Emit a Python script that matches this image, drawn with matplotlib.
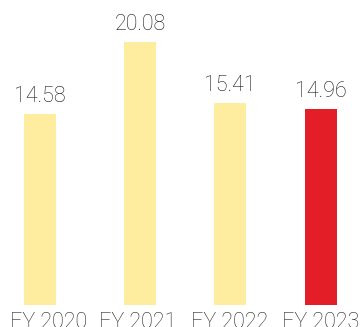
import matplotlib
matplotlib.use("Agg")
import matplotlib.pyplot as plt

years = ["FY 2020", "FY 2021", "FY 2022", "FY 2023"]
values = [14.58, 20.08, 15.41, 14.96]
colors = ["#FEEC9F", "#FEEC9F", "#FEEC9F", "#E31E26"]

# horizontal layout in pixels
bar_x = [40, 140, 230, 321]
label_x = [49, 138, 230, 321]

plt.rcParams["font.family"] = ["Roboto", "DejaVu Sans"]

fig = plt.figure(figsize=(3.6, 3.27), dpi=100)
ax = fig.add_axes([0, 0, 1, 1])

px_per_unit = 13.07
base_px = 22.5
ax.set_xlim(0, 360)
ax.set_ylim(-base_px / px_per_unit, (327 - base_px) / px_per_unit)
ax.axis("off")

bars = ax.bar(bar_x, values, width=32, color=colors)
for rect, v in zip(bars, values):
    ax.annotate(f"{v:.2f}", (rect.get_x() + rect.get_width() / 2, v),
                xytext=(0, 7), textcoords="offset pixels",
                ha="center", va="bottom", fontsize=15.5, fontweight="light",
                color="#1a1a1a")

# category names sit just under the baseline, partly below the figure edge
for x, name in zip(label_x, years):
    ax.annotate(name, (x, 0), xytext=(0, -8), textcoords="offset pixels",
                ha="center", va="top", fontsize=15.5, fontweight="light",
                color="#262626")

fig.savefig("out.png", dpi=100)
